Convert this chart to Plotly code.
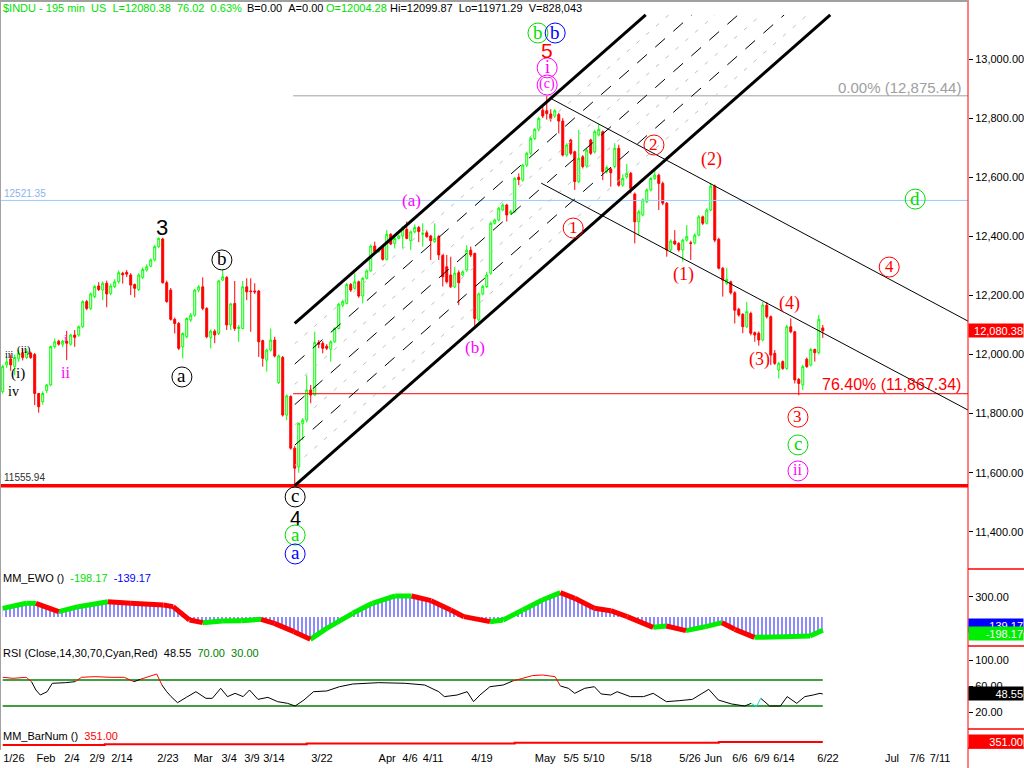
import plotly.graph_objects as go
from plotly.subplots import make_subplots

# ---------------- data ----------------
open_ = [11874, 11965, 11985, 11960, 11985, 12005, 11990, 12005, 12000, 11868,
         11840, 11878, 11897, 12027, 12045, 12035, 12045, 12035, 12066, 12066,
         12094, 12179, 12156, 12196, 12232, 12218, 12241, 12207, 12230, 12246,
         12275, 12278, 12269, 12237, 12220, 12261, 12286, 12299, 12320, 12365,
         12391, 12243, 12218, 12119, 12105, 12026, 12060, 12117, 12133, 12218,
         12229, 12156, 12058, 12079, 12071, 12252, 12261, 12100, 12173, 12088,
         12088, 12229, 12215, 12215, 12215, 12047, 11981, 12015, 12049, 11905,
         11990, 11795, 11858, 11683, 11620, 11767, 11778, 11880, 11863, 12040,
         12038, 12028, 12018, 12043, 12088, 12167, 12173, 12237, 12224, 12246,
         12198, 12258, 12283, 12367, 12348, 12365, 12322, 12407, 12376, 12393,
         12401, 12423, 12385, 12415, 12430, 12407, 12412, 12401, 12382, 12399,
         12337, 12297, 12269, 12229, 12277, 12269, 12286, 12353, 12342, 12117,
         12205, 12230, 12275, 12444, 12455, 12489, 12506, 12478, 12483, 12600,
         12590, 12641, 12681, 12731, 12762, 12827, 12825, 12814, 12807, 12812,
         12790, 12675, 12726, 12686, 12585, 12669, 12638, 12726, 12686, 12743,
         12754, 12619, 12628, 12636, 12698, 12573, 12601, 12613, 12543, 12449,
         12472, 12517, 12557, 12596, 12607, 12579, 12512, 12354, 12384, 12376,
         12354, 12387, 12378, 12378, 12404, 12466, 12444, 12489, 12570, 12390,
         12292, 12241, 12246, 12209, 12153, 12136, 12094, 12139, 12074, 12072,
         12049, 12167, 12128, 12004, 11948, 11976, 11953, 12094, 12077, 11916,
         11897, 11984, 11964, 12017, 12006, 12090]
high = [11965, 11990, 12000, 12000, 12015, 12020, 12020, 12010, 12005, 11870,
        11875, 11900, 12030, 12054, 12050, 12050, 12080, 12070, 12083, 12098,
        12183, 12185, 12210, 12235, 12245, 12247, 12250, 12240, 12255, 12285,
        12280, 12286, 12275, 12240, 12275, 12295, 12305, 12325, 12370, 12396,
        12395, 12250, 12225, 12125, 12110, 12075, 12125, 12140, 12222, 12235,
        12261, 12160, 12085, 12085, 12252, 12286, 12265, 12175, 12249, 12100,
        12249, 12258, 12258, 12241, 12218, 12050, 12020, 12088, 12060, 12000,
        11995, 11865, 11862, 11690, 11770, 11785, 11930, 11897, 12077, 12049,
        12045, 12035, 12048, 12092, 12175, 12185, 12242, 12242, 12275, 12250,
        12262, 12288, 12372, 12382, 12362, 12370, 12421, 12410, 12398, 12405,
        12435, 12450, 12420, 12440, 12435, 12444, 12420, 12405, 12444, 12405,
        12340, 12337, 12331, 12297, 12285, 12285, 12370, 12365, 12345, 12210,
        12235, 12280, 12450, 12460, 12500, 12512, 12510, 12490, 12600, 12613,
        12645, 12686, 12736, 12766, 12805, 12844, 12875.44, 12830, 12830, 12818,
        12800, 12715, 12730, 12690, 12760, 12675, 12698, 12730, 12760, 12780,
        12758, 12640, 12633, 12715, 12710, 12610, 12645, 12618, 12548, 12490,
        12528, 12562, 12600, 12624, 12612, 12585, 12516, 12390, 12421, 12380,
        12392, 12438, 12385, 12410, 12472, 12470, 12495, 12579, 12575, 12395,
        12296, 12292, 12250, 12214, 12158, 12140, 12178, 12145, 12078, 12078,
        12178, 12178, 12132, 12015, 11975, 11980, 12100, 12122, 12080, 11920,
        11965, 11990, 12022, 12020, 12134, 12099.87]
low = [11868, 11955, 11945, 11930, 11975, 11980, 11985, 11985, 11829, 11803,
       11830, 11870, 11893, 12020, 12030, 12025, 11981, 12030, 12026, 12060,
       12090, 12150, 12150, 12190, 12215, 12184, 12160, 12200, 12225, 12240,
       12240, 12262, 12201, 12193, 12215, 12255, 12280, 12295, 12315, 12360,
       12240, 12175, 12115, 12071, 12015, 11987, 12055, 12110, 12128, 12210,
       12150, 12055, 12021, 12038, 12066, 12248, 12083, 12083, 12080, 12043,
       12085, 12184, 12077, 12205, 11992, 11959, 11942, 12010, 11990, 11900,
       11790, 11778, 11678, 11555.94, 11600, 11710, 11770, 11835, 11860, 12021,
       12004, 12015, 11976, 12040, 12085, 12160, 12170, 12212, 12220, 12192,
       12173, 12254, 12280, 12345, 12345, 12318, 12318, 12370, 12359, 12390,
       12359, 12390, 12353, 12410, 12380, 12365, 12395, 12320, 12378, 12320,
       12230, 12240, 12225, 12225, 12167, 12265, 12280, 12330, 12094, 12111,
       12200, 12225, 12270, 12440, 12450, 12485, 12450, 12472, 12478, 12573,
       12585, 12635, 12675, 12726, 12755, 12800, 12795, 12788, 12800, 12748,
       12670, 12670, 12675, 12557, 12580, 12630, 12632, 12675, 12680, 12738,
       12590, 12612, 12568, 12630, 12568, 12568, 12595, 12545, 12376, 12404,
       12468, 12512, 12552, 12590, 12489, 12505, 12331, 12348, 12370, 12348,
       12314, 12382, 12320, 12372, 12400, 12438, 12440, 12485, 12380, 12288,
       12196, 12236, 12203, 12105, 12128, 12072, 12090, 12065, 12043, 12030,
       12045, 12122, 11964, 11965, 11919, 11948, 11948, 12072, 11902, 11862,
       11880, 11955, 11960, 11976, 12000, 12056]
close = [11959, 11975, 11965, 11990, 12005, 11990, 12010, 11990, 11868, 11823,
         11868, 11897, 12027, 12043, 12035, 12045, 12038, 12066, 12058, 12094,
         12179, 12156, 12205, 12230, 12220, 12241, 12205, 12232, 12246, 12277,
         12270, 12272, 12235, 12224, 12269, 12288, 12297, 12320, 12365, 12393,
         12243, 12179, 12119, 12105, 12021, 12071, 12122, 12133, 12218, 12229,
         12156, 12060, 12079, 12066, 12249, 12263, 12100, 12171, 12088, 12092,
         12229, 12212, 12213, 12212, 12043, 11987, 12015, 12049, 11995, 11995,
         11795, 11860, 11683, 11615, 11767, 11778, 11880, 11863, 12041, 12035,
         12021, 12021, 12043, 12088, 12170, 12179, 12237, 12218, 12246, 12198,
         12258, 12283, 12367, 12348, 12356, 12322, 12407, 12374, 12393, 12401,
         12430, 12393, 12415, 12430, 12416, 12410, 12399, 12385, 12393, 12337,
         12263, 12246, 12229, 12275, 12243, 12280, 12353, 12337, 12122, 12205,
         12230, 12269, 12444, 12455, 12495, 12506, 12472, 12483, 12596, 12592,
         12641, 12681, 12731, 12762, 12799, 12807, 12815, 12799, 12825, 12790,
         12675, 12709, 12681, 12585, 12664, 12636, 12692, 12681, 12754, 12762,
         12619, 12633, 12615, 12698, 12573, 12596, 12613, 12562, 12449, 12483,
         12523, 12557, 12596, 12607, 12579, 12512, 12354, 12384, 12374, 12354,
         12387, 12399, 12376, 12404, 12466, 12444, 12489, 12570, 12387, 12292,
         12252, 12254, 12209, 12150, 12134, 12094, 12145, 12072, 12066, 12049,
         12167, 12128, 11998, 11970, 11970, 11953, 12094, 12077, 11914, 11902,
         11959, 11959, 12017, 12006, 12119, 12080.38]
bars = list(range(len(close)))

tick_pos = [2.8, 10.8, 17.3, 23.6, 29.8, 41.3, 50.1, 56.6, 62.3, 67.8, 79.8, 96.1,
            101.8, 107.6, 119.8, 135.6, 142.1, 147.8, 159.6, 171.8, 177.6, 184.3,
            189.8, 195.3, 206.3, 222.3, 228.6, 234.3]
tick_text = ["1/26", "Feb", "2/4", "2/9", "2/14", "2/23", "Mar", "3/4", "3/9", "3/14",
             "3/22", "Apr", "4/6", "4/11", "4/19", "May", "5/5", "5/10", "5/18", "5/26",
             "Jun", "6/6", "6/9", "6/14", "6/22", "Jul", "7/6", "7/11"]

ewo_x = [0, 5.9, 8.3, 14, 18.9, 26.3, 32, 40.2, 42.6, 46.7, 50, 54.9, 59.7, 64.6, 67.9,
         72.8, 76.9, 81, 87.5, 92.4, 98.1, 102.2, 107.1, 112, 115.3, 121.8, 125.1, 130,
         134.9, 139.4, 143, 147.9, 152, 156.1, 162.6, 165.9, 170.8, 175.7, 179.8, 183,
         187.9, 195.3, 201.8, 205]
ewo_v = [130, 205, 205, 80, 155, 230, 205, 180, 155, -45, -85, -60, -55, -35, -95,
         -220, -335, -170, 55, 205, 315, 315, 245, 105, 5, -70, -45, 105, 255, 365,
         280, 130, 95, 5, -155, -135, -205, -145, -85, -185, -305, -295, -285, -198.17]

rsi_x = [0, 2.6, 5.9, 7.2, 8.3, 9.4, 11.1, 12.4, 15.7, 18.1, 19.7, 23, 27.1, 30.4, 32.8,
         34.4, 38.5, 39.8, 41, 42.1, 43.7, 45.9, 48.3, 50.8, 52.4, 54.5, 56.2, 58.1, 60.1,
         61.7, 63.8, 66.3, 68.7, 71.2, 73.1, 75.3, 77.7, 81, 84.2, 87.5, 94, 100.6, 105.5,
         109, 110.4, 113.6, 116.1, 117.7, 119.3, 121.8, 125.1, 127.5, 130, 132.4, 134.9,
         138.1, 139.4, 141.4, 143, 145.5, 147.9, 149.6, 152, 153.6, 156.9, 160.2, 162.6,
         165.9, 169.1, 172.4, 176.5, 178.9, 182.2, 185.5, 187.1, 188.4, 189.5, 191.7,
         194.4, 196.1, 198.5, 200.5, 202.6, 204.3, 205]
rsi_v = [74.1, 72.6, 74.1, 67.4, 54.6, 46.9, 52.0, 64.9, 65.9, 67.4, 74.1, 75.1, 74.1,
         74.1, 67.4, 71.0, 79.2, 62.3, 52.0, 44.4, 35.1, 43.3, 52.0, 41.8, 41.8, 57.2,
         44.4, 49.5, 44.4, 54.6, 40.2, 43.3, 36.7, 34.1, 30.0, 39.2, 52.0, 53.1, 59.7,
         63.8, 65.9, 64.9, 62.3, 52.0, 44.4, 46.9, 52.0, 36.7, 46.9, 59.7, 62.3, 68.5,
         72.6, 76.7, 77.7, 75.1, 60.8, 57.2, 49.5, 57.2, 59.7, 48.5, 46.9, 52.0, 44.4,
         44.4, 49.5, 36.7, 38.2, 40.2, 55.6, 39.2, 33.1, 30.0, 34.1, 29.0, 41.8, 30.0,
         30.0, 44.4, 34.1, 44.4, 46.9, 49.5, 48.55]
rsi_upper, rsi_lower = 70, 30

barnum_x = [0, 25.5, 76, 128, 179, 205]
barnum_v = [347, 348, 349, 350, 351, 351]

level_top = 12875.44      # 0.00 %
level_blue = 12521.35
level_low = 11555.94
level_fib = 11867.34      # 76.40 %
last_price = 12080.38

# pitchfork: pivot bar, low & upper-rail price at pivot, slope (points per bar)
pf_bar, pf_low, pf_high, pf_slope, pf_end = 73, 11555.94, 12105, 11.9, 13149
# descending channel lines (bar, price) pairs
chan_upper = [(136.8, 12868), (241.3, 12113)]
chan_lower = [(134.6, 12580), (241.3, 11812)]

XMAX = 241.3
XMIN = -0.675

# ---------------- figure ----------------
fig = make_subplots(rows=4, cols=1, shared_xaxes=True, vertical_spacing=0.002)
H = 750.0
def py(p):  # pixel (from top of plot area) to paper
    return 1 - p / H

fig.add_trace(go.Candlestick(
    x=bars, open=open_, high=high, low=low, close=close,
    increasing=dict(line=dict(color="#00ff00", width=1), fillcolor="white"),
    decreasing=dict(line=dict(color="#ff0000", width=1), fillcolor="#ff0000"),
    whiskerwidth=0, hoverinfo="skip"), row=1, col=1)

# EWO histogram (vertical hatch) + coloured line
fig.add_trace(go.Scatter(x=ewo_x, y=ewo_v, mode="lines", line=dict(width=0),
                         fill="tozeroy", fillcolor="rgba(0,0,0,0)",
                         fillpattern=dict(shape="|", fgcolor="#0000ff", bgcolor="white",
                                          size=4, solidity=0.45),
                         hoverinfo="skip"), row=2, col=1)
gx, gy, rx, ry = [], [], [], []
for i in range(len(ewo_x) - 1):
    if ewo_v[i + 1] >= ewo_v[i]:
        gx += [ewo_x[i], ewo_x[i + 1], None]; gy += [ewo_v[i], ewo_v[i + 1], None]
    else:
        rx += [ewo_x[i], ewo_x[i + 1], None]; ry += [ewo_v[i], ewo_v[i + 1], None]
fig.add_trace(go.Scatter(x=gx, y=gy, mode="lines", line=dict(color="#00ee00", width=5)), row=2, col=1)
fig.add_trace(go.Scatter(x=rx, y=ry, mode="lines", line=dict(color="#ff0000", width=5)), row=2, col=1)

# RSI
fig.add_trace(go.Scatter(x=[0, 205], y=[rsi_upper, rsi_upper], mode="lines",
                         line=dict(color="#008000", width=1.5)), row=3, col=1)
fig.add_trace(go.Scatter(x=[0, 205], y=[rsi_lower, rsi_lower], mode="lines",
                         line=dict(color="#008000", width=1.5)), row=3, col=1)
seg = {"black": ([], []), "red": ([], []), "cyan": ([], [])}
for i in range(len(rsi_x) - 1):
    a, b = rsi_v[i], rsi_v[i + 1]
    c = "red" if max(a, b) > rsi_upper + 1 else ("cyan" if min(a, b) < rsi_lower - 0.5 else "black")
    seg[c][0].extend([rsi_x[i], rsi_x[i + 1], None]); seg[c][1].extend([a, b, None])
for c, col in (("black", "#000000"), ("red", "#ff0000"), ("cyan", "#00e0e0")):
    fig.add_trace(go.Scatter(x=seg[c][0], y=seg[c][1], mode="lines",
                             line=dict(color=col, width=1)), row=3, col=1)

# Bar number
fig.add_trace(go.Scatter(x=barnum_x, y=barnum_v, mode="lines", line_shape="hv",
                         line=dict(color="#ff0000", width=2)), row=4, col=1)

# ---------------- horizontal levels ----------------
def hline(y, x0, x1, color, width, dash="solid"):
    fig.add_shape(type="line", xref="x", yref="y", x0=x0, x1=x1, y0=y, y1=y,
                  line=dict(color=color, width=width, dash=dash))

hline(level_blue, XMIN, XMAX, "#99ccff", 1)
hline(level_top, 72.6, XMAX, "#a0a0a0", 1)
hline(level_fib, 72.6, XMAX, "#ff0000", 1)
hline(level_low, XMIN, XMAX, "#ff0000", 3.5)

# ---------------- pitchfork ----------------
width_pf = pf_high - pf_low
rails = [(0.125, "#c0c0c0", 1, "4px,9px"), (0.375, "#c0c0c0", 1, "4px,9px"),
         (0.625, "#c0c0c0", 1, "4px,9px"), (0.875, "#c0c0c0", 1, "4px,9px"),
         (0.25, "#000000", 1, "13px,11px"), (0.5, "#000000", 1, "13px,11px"),
         (0.75, "#000000", 1, "13px,11px"),
         (0.0, "#000000", 3, "solid"), (1.0, "#000000", 3, "solid")]
for f, col, w, d in rails:
    base = pf_low + f * width_pf
    x1 = pf_bar + (pf_end - base) / pf_slope
    fig.add_shape(type="line", xref="x", yref="y", x0=pf_bar, y0=base, x1=x1, y1=pf_end,
                  line=dict(color=col, width=w, dash=d))

for (x0, y0), (x1, y1) in (chan_upper, chan_lower):
    fig.add_shape(type="line", xref="x", yref="y", x0=x0, y0=y0, x1=x1, y1=y1,
                  line=dict(color="#000000", width=1))

# ---------------- wave labels ----------------
MAG, RED, GRN, BLU, BLK = "#ff00ff", "#ff0000", "#00dd00", "#0000ff", "#000000"
SERIF, SANS = "Liberation Serif", "Liberation Sans"
labels = [
    (39.8, 12428, "3", BLK, False, 22, SANS),
    (54.8, 12320, "b", BLK, True, 19, SERIF),
    (44.8, 11924, "a", BLK, True, 19, SERIF),
    (15.8, 11937, "ii", MAG, False, 16, SERIF),
    (15.8, 12050, "i", MAG, False, 10, SERIF),
    (2.8, 11870, "iv", BLK, False, 14, SERIF),
    (3.8, 11931, "(i)", BLK, False, 15, SERIF),
    (1.8, 11995, "iii", BLK, False, 10, SERIF),
    (5.2, 12012, "(ii)", BLK, False, 11, SERIF),
    (102.1, 12519, "(a)", MAG, False, 17, SERIF),
    (118.1, 12019, "(b)", MAG, False, 17, SERIF),
    (73.1, 11518, "c", BLK, True, 19, SERIF),
    (73.1, 11443, "4", BLK, False, 20, SANS),
    (73.1, 11389, "a", GRN, True, 19, SERIF),
    (73.1, 11325, "a", BLU, True, 19, SERIF),
    (133.8, 13088, "b", GRN, True, 19, SERIF),
    (138.1, 13088, "b", BLU, True, 19, SERIF),
    (136.1, 13024, "5", RED, False, 21, SANS),
    (136.1, 12970, "i", MAG, True, 18, SERIF),
    (136.1, 12912, "(c)", MAG, True, 14, SERIF),
    (142.6, 12428, "1", RED, True, 17, SERIF),
    (162.8, 12709, "2", RED, True, 17, SERIF),
    (177.1, 12655, "(2)", RED, False, 18, SERIF),
    (170.1, 12269, "(1)", RED, False, 18, SERIF),
    (228.1, 12526, "d", GRN, True, 19, SERIF),
    (221.6, 12296, "4", RED, True, 17, SERIF),
    (196.8, 12168, "(4)", RED, False, 18, SERIF),
    (189.1, 11981, "(3)", RED, False, 18, SERIF),
    (198.8, 11788, "3", RED, True, 17, SERIF),
    (198.8, 11694, "c", GRN, True, 19, SERIF),
    (198.8, 11606, "ii", MAG, True, 16, SERIF),
]
for k, p, t, col, circ, sz, fam in labels:
    fig.add_annotation(x=k, y=p, xref="x", yref="y", text=t, showarrow=False,
                       font=dict(color=col, size=sz, family=fam), yshift=1)
    if circ:
        fig.add_shape(type="circle", xref="x", yref="y", xsizemode="pixel", ysizemode="pixel",
                      xanchor=k, yanchor=p, x0=-10, x1=10, y0=-10, y1=10,
                      line=dict(color=col, width=1))

# ---------------- texts in paper coords ----------------
def txt(x, y, s, color="#000000", size=12, xanchor="left", bg=None, w=None, family=SANS):
    fig.add_annotation(x=x, y=y, xref="paper", yref="paper", text=s, showarrow=False,
                       xanchor=xanchor, yanchor="middle",
                       font=dict(color=color, size=size, family=family),
                       bgcolor=bg, width=w, borderpad=0, align="left")

NB = "\u00a0"
hdr_g = "#00e000"
txt(2 / 968, py(8), f"$INDU - 195 min{NB*2}US{NB*2}L=12080.38{NB*2}76.02{NB*2}0.63%", hdr_g, 11)
txt(246 / 968, py(8), f"B=0.00{NB*2}A=0.00", size=11)
txt(325 / 968, py(8), "O=12004.28", hdr_g, 11)
txt(389 / 968, py(8), f"Hi=12099.87{NB*2}Lo=11971.29{NB*2}V=828,043", size=11)

txt(962 / 968, py(88), "0.00% (12,875.44)", "#a0a0a0", 15, "right")
txt(962 / 968, py(384), "76.40% (11,867.34)", "#ff0000", 16, "right")
txt(3 / 968, py(193), "12521.35", "#8ab4e8", 10)
txt(3 / 968, py(477), "11555.94", "#303030", 10)

txt(2 / 968, py(578), f"MM_EWO (){NB*2}<span style='color:#00e000'>-198.17</span>{NB*2}"
    f"<span style='color:#0000ff'>-139.17</span>", size=11)
txt(2 / 968, py(653), f"RSI (Close,14,30,70,Cyan,Red){NB*2}48.55{NB*2}"
    f"<span style='color:#008000'>70.00</span>{NB*2}<span style='color:#008000'>30.00</span>", size=11)
txt(2 / 968, py(736), f"MM_BarNum (){NB*2}<span style='color:#ff0000'>351.00</span>", size=11)

# right-axis value boxes
def box(yref, y, s, bg, fc="white", yshift=0):
    fig.add_annotation(x=1.0, y=y, xref="paper", yref=yref, text=s, showarrow=False,
                       xanchor="left", yanchor="middle", bgcolor=bg, width=54, height=13,
                       font=dict(color=fc, size=11, family=SANS), borderpad=0, yshift=yshift,
                       align="right")
box("y", last_price, "12,080.38", "#ff0000")
box("y2", -139.17, "-139.17", "#0000ff", yshift=1)
box("y2", -198.17, "-198.17", "#00ee00", yshift=-3)
box("y3", 48.55, "48.55", "#000000")
box("y4", 351, "351.00", "#ff0000")

# frame & right-axis separators
fig.add_shape(type="line", xref="paper", yref="paper", x0=1, x1=1, y0=-0.03, y1=1,
              line=dict(color="#ff0000", width=1))
for p in (569, 646, 729, 748):
    fig.add_shape(type="line", xref="paper", yref="paper", x0=1, x1=1024 / 968,
                  y0=py(p), y1=py(p), line=dict(color="#ff0000", width=1.5))
fig.add_shape(type="line", xref="paper", yref="paper", x0=0, x1=1, y0=py(1), y1=py(1),
              line=dict(color="#a0a0a0", width=2))
fig.add_shape(type="line", xref="paper", yref="paper", x0=0.0005, x1=0.0005, y0=0, y1=1,
              line=dict(color="#a0a0a0", width=1))

# ---------------- axes & layout ----------------
axfont = dict(family=SANS, size=11, color="#000000")
fig.update_xaxes(range=[XMIN, XMAX], showgrid=False, zeroline=False, showline=False,
                 rangeslider_visible=False, tickvals=tick_pos, ticktext=tick_text,
                 ticks="", tickfont=axfont)
common_y = dict(side="right", showgrid=False, zeroline=False, showline=False,
                ticks="outside", ticklen=4, tickcolor="#000000", tickfont=axfont)
fig.update_layout(
    width=1024, height=768, margin=dict(l=0, r=56, t=0, b=18),
    paper_bgcolor="white", plot_bgcolor="white", showlegend=False,
    yaxis=dict(domain=[py(566), 1], range=[11284.3, 13199.7],
               tickvals=[11400, 11600, 11800, 12000, 12200, 12400, 12600, 12800, 13000],
               tickformat=",.2f", **common_y),
    yaxis2=dict(domain=[py(646), py(568)], range=[-434.8, 734.6], tickvals=[300],
                tickformat=".2f", **common_y),
    yaxis3=dict(domain=[py(727), py(648)], range=[-2.3, 119.2], tickvals=[20, 60, 100],
                tickformat=".2f", **common_y),
    yaxis4=dict(domain=[0, py(729)], range=[340.3, 368.3], showticklabels=False,
                **{k: v for k, v in common_y.items() if k not in ("ticks",)}, ticks=""),
)
fig.write_html("out.html", config={"displayModeBar": False},
               post_script="document.body.style.margin='0';")
